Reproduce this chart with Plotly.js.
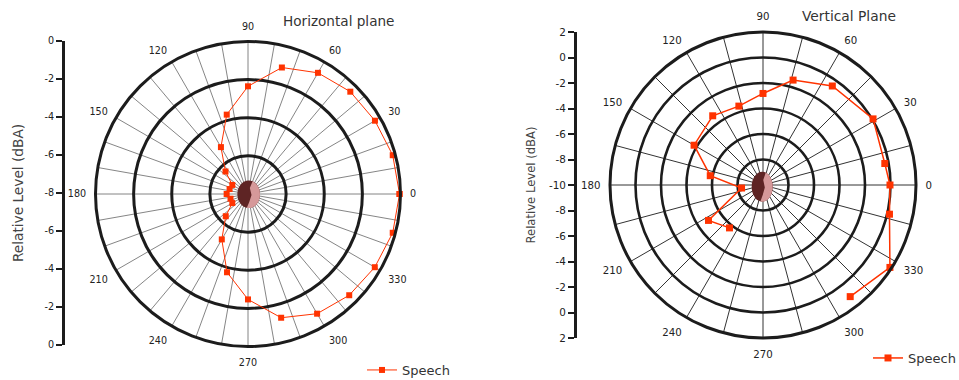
<!DOCTYPE html>
<html>
<head>
<meta charset="utf-8">
<script src="https://cdn.plot.ly/plotly-3.0.1.min.js"></script>
<style>
  html, body { margin: 0; padding: 0; background: #fff; }
  #chart { width: 959px; height: 380px; }
</style>
</head>
<body>
<div id="chart"></div>
<script>
// Horizontal plane: relative speech level (dBA) every 15 degrees
const horizAngles = [0, 15, 30, 45, 60, 75, 90, 105, 120, 135, 150, 165,
                     180, 195, 210, 225, 240, 255, 270, 285, 300, 315, 330, 345];
const horizLevels = [-0.05, -0.14, -0.31, -0.41, -0.66, -1.13, -2.35, -3.69, -5.16, -6.33, -7.05, -7.00,
                     -6.88, -7.05, -7.05, -6.35, -5.25, -3.75, -2.47, -1.28, -0.75, -0.49, -0.32, -0.14];

// Vertical plane: relative speech level (dBA), open trace from 308 round to 232 degrees
const vertAngles = [308, 327, 347, 0, 10, 31, 55, 74, 90, 107, 126, 150, 170, 188, 213, 232];
const vertLevels = [1.11, 1.87, 0.18, -0.04, -0.30, 0.07, -0.52, -1.44, -2.82, -3.53, -3.29, -3.76, -5.80, -8.30, -4.90, -5.73];

// Angular labels (every 30 degrees)
const angleLabels = ['0', '30', '60', '90', '120', '150', '180', '210', '240', '270', '300', '330'];

// Side scales: value along the vertical bar and the label printed there
const horizSideVals = [-8, -6, -4, -2, 0, 2, 4, 6, 8];
const horizSideText = ['0', '-2', '-4', '-6', '-8', '-6', '-4', '-2', '0'];
const vertSideVals = [-12, -10, -8, -6, -4, -2, 0, 2, 4, 6, 8, 10, 12];
const vertSideText = ['2', '0', '-2', '-4', '-6', '-8', '-10', '-8', '-6', '-4', '-2', '0', '2'];

const horizRings = [-6, -4, -2, 0];
const vertRings = [-8, -6, -4, -2, 0, 2];

const W = 959, H = 380;
const FONT = 'DejaVu Sans, Verdana, sans-serif';
const INK = '#1c1c1c';
const RED = '#ff3300';

const px = v => v / W;
const py = v => 1 - v / H;

function spokes(step) {
  const vals = [], text = [];
  for (let a = 0; a < 360; a += step) {
    vals.push(a);
    text.push(a % 30 === 0 ? angleLabels[a / 30] : '');
  }
  return { vals, text };
}
const hSpokes = spokes(10);
const vSpokes = spokes(15);

function polarLayout(dom, range, rings, sp, gridColor, gridWidth, ringWidth, fontSize) {
  return {
    domain: dom,
    bgcolor: '#fff',
    radialaxis: {
      range: range, tickmode: 'array', tickvals: rings,
      showticklabels: false, ticks: '', showline: false,
      gridcolor: INK, gridwidth: ringWidth, angle: 0
    },
    angularaxis: {
      rotation: 0, direction: 'counterclockwise',
      tickmode: 'array', tickvals: sp.vals, ticktext: sp.text,
      ticks: 'outside', ticklen: 6, tickcolor: 'rgba(0,0,0,0)',
      showline: true, linecolor: INK, linewidth: 3,
      gridcolor: gridColor, gridwidth: gridWidth,
      tickfont: { family: FONT, size: fontSize, color: '#222' }
    }
  };
}

// Head icon at the centre of each diagram
function headShapes(cx, cy, rx, ry) {
  const pts = [];
  for (let t = -70; t <= 100; t += 10) {
    const r = t * Math.PI / 180;
    pts.push([cx + rx * Math.cos(r), cy + ry * Math.sin(r)]);
  }
  pts.push([cx + rx * 0.05, cy + ry * 0.55]);
  pts.push([cx + rx * 0.25, cy + ry * 0.05]);
  pts.push([cx + rx * 0.1, cy - ry * 0.45]);
  const path = 'M' + pts.map(p => px(p[0]).toFixed(5) + ',' + py(p[1]).toFixed(5)).join(' L') + ' Z';
  return [
    { type: 'circle', xref: 'paper', yref: 'paper',
      x0: px(cx - rx), x1: px(cx + rx), y0: py(cy + ry), y1: py(cy - ry),
      fillcolor: '#5e2424', line: { width: 0 } },
    { type: 'path', xref: 'paper', yref: 'paper', path: path,
      fillcolor: '#d6999a', line: { width: 0 } }
  ];
}

const traces = [
  {
    type: 'scatterpolar', subplot: 'polar', name: 'Speech', legend: 'legend',
    theta: horizAngles.concat(horizAngles[0]),
    r: horizLevels.concat(horizLevels[0]),
    mode: 'lines+markers',
    line: { color: RED, width: 1 },
    marker: { symbol: 'square', size: 6, color: RED },
    hoverinfo: 'skip'
  },
  {
    type: 'scatterpolar', subplot: 'polar2', name: 'Speech', legend: 'legend2',
    theta: vertAngles, r: vertLevels,
    mode: 'lines+markers',
    line: { color: RED, width: 1.5 },
    marker: { symbol: 'square', size: 7, color: RED },
    hoverinfo: 'skip'
  },
  // empty traces that hold the two level scales
  { type: 'scatter', x: [], y: [], xaxis: 'x', yaxis: 'y', showlegend: false, hoverinfo: 'skip' },
  { type: 'scatter', x: [], y: [], xaxis: 'x2', yaxis: 'y2', showlegend: false, hoverinfo: 'skip' }
];

const sideAxis = (dom, range, vals, text, fontSize) => ({
  domain: dom, range: range, tickmode: 'array', tickvals: vals, ticktext: text,
  showgrid: false, zeroline: false, showline: true, linecolor: INK, linewidth: 3,
  ticks: 'outside', ticklen: 6, tickwidth: 2, tickcolor: INK,
  tickfont: { family: FONT, size: fontSize, color: '#222' }, fixedrange: true
});

const layout = {
  width: W, height: H,
  margin: { l: 0, r: 0, t: 0, b: 0, autoexpand: false },
  paper_bgcolor: '#fff', plot_bgcolor: 'rgba(0,0,0,0)',
  showlegend: true,
  polar: polarLayout({ x: [px(95.5), px(400.5)], y: [py(346.5), py(41.5)] },
                     [-8, 0], horizRings, hSpokes, '#666', 0.8, 3, 9.6),
  polar2: polarLayout({ x: [px(610), px(916)], y: [py(338), py(32)] },
                      [-10, 2], vertRings, vSpokes, '#333', 1, 2.6, 10.2),
  xaxis: { domain: [px(65), px(70)], range: [0, 1], visible: false, anchor: 'y', fixedrange: true },
  yaxis: Object.assign(sideAxis([py(345), py(41)], [-8, 8], horizSideVals, horizSideText, 9.6), {
    anchor: 'x',
    title: { text: 'Relative Level (dBA)', standoff: 18, font: { family: FONT, size: 13.7, color: '#444' } }
  }),
  xaxis2: { domain: [px(577), px(582)], range: [0, 1], visible: false, anchor: 'y2', fixedrange: true },
  yaxis2: Object.assign(sideAxis([py(338), py(32)], [-12, 12], vertSideVals, vertSideText, 10.4), {
    anchor: 'x2',
    title: { text: 'Relative Level (dBA)', standoff: 11, font: { family: FONT, size: 11.6, color: '#444' } }
  }),
  annotations: [
    { text: 'Horizontal plane', xref: 'paper', yref: 'paper', x: px(338.5), y: py(21),
      xanchor: 'center', yanchor: 'middle', showarrow: false,
      font: { family: FONT, size: 13.6, color: '#333' } },
    { text: 'Vertical Plane', xref: 'paper', yref: 'paper', x: px(849), y: py(16),
      xanchor: 'center', yanchor: 'middle', showarrow: false,
      font: { family: FONT, size: 13.8, color: '#333' } }
  ],
  legend: { x: px(362), y: py(370), xanchor: 'left', yanchor: 'middle',
            bgcolor: 'rgba(0,0,0,0)', font: { family: FONT, size: 13, color: '#333' } },
  legend2: { x: px(868), y: py(358), xanchor: 'left', yanchor: 'middle',
             bgcolor: 'rgba(0,0,0,0)', font: { family: FONT, size: 13, color: '#333' } },
  shapes: headShapes(248.7, 194.3, 11.3, 13.8).concat(headShapes(762.2, 186.7, 10.5, 15))
};

Plotly.newPlot('chart', traces, layout, { staticPlot: true, displayModeBar: false });
</script>
</body>
</html>
